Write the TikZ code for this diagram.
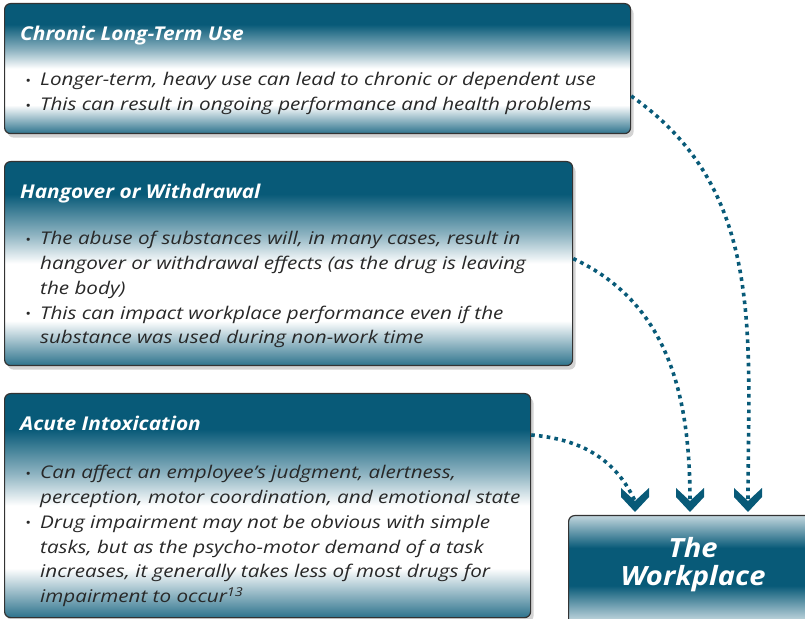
\documentclass[tikz,border=0pt]{standalone}
\usepackage{fontspec}
\newfontfamily\bodyfont{Open Sans}[FakeStretch=1.18]
\newfontfamily\headfont{Open Sans}[FakeStretch=1.1]
\usepackage{xcolor}
\usetikzlibrary{shadows}

\definecolor{deepteal}{RGB}{8,90,120}
\definecolor{bodygray}{RGB}{40,40,40}

% panel: dark top band, white middle, teal again at the foot
\pgfdeclareverticalshading{panelshade}{100bp}{color(0bp)=(deepteal!85); color(25bp)=(deepteal!85);
  color(36bp)=(white); color(50bp)=(white); color(57bp)=(deepteal!45); color(67bp)=(deepteal); color(100bp)=(deepteal)}
% target box: light edges, dark middle
\pgfdeclareverticalshading{targetshade}{100bp}{color(0bp)=(white); color(25bp)=(white);
  color(32bp)=(deepteal!20); color(47bp)=(deepteal); color(62bp)=(deepteal); color(75bp)=(deepteal!25); color(100bp)=(deepteal!25)}

\newcommand{\bul}{\makebox[15pt][l]{\raisebox{0.5pt}{\fontsize{13}{13}\selectfont\textbullet}}}
\newcommand{\ind}{\hspace*{15pt}}

\begin{document}
\begin{tikzpicture}[x=1pt,y=1pt,
  panel/.style={draw=black!80, line width=1.2pt, rounded corners=6pt, shading=panelshade,
    anchor=north west, inner sep=0pt,
    drop shadow={shadow xshift=3pt, shadow yshift=-4pt, opacity=0.35}},
  heading/.style={anchor=base west, inner sep=0pt, text=white,
    font=\headfont\bfseries\itshape\fontsize{19}{22}\selectfont},
  bullets/.style={anchor=base west, inner sep=0pt, text=bodygray,
    font=\bodyfont\itshape\fontsize{17.5}{24.7}\selectfont},
  link/.style={draw=deepteal, line width=3.6pt, dash pattern=on 3.6pt off 4.2pt},
  chevron/.pic={\fill[deepteal] (0,-11) -- (14,4) -- (14,13) -- (0,0) -- (-14,13) -- (-14,4) -- cycle;}]

  \useasboundingbox (0,0) rectangle (805,618);
  \clip (0,0) rectangle (805,618);

  % the three panels
  \node[panel, minimum width=626pt, minimum height=130pt] (chronic) at (4,615) {};
  \node[heading] (chronichead) at ([shift={(16,-38)}]chronic.north west) {Chronic Long-Term Use};
  \node[bullets] (chronictext) at ([shift={(21,-83)}]chronic.north west)
    {\begin{tabular}[t]{@{}l@{}}
     \bul Longer-term, heavy use can lead to chronic or dependent use\\
     \bul This can result in ongoing performance and health problems
     \end{tabular}};

  \node[panel, minimum width=568pt, minimum height=204pt] (hangover) at (4,457) {};
  \node[heading] (hangoverhead) at ([shift={(16,-38)}]hangover.north west) {Hangover or Withdrawal};
  \node[bullets] (hangovertext) at ([shift={(21,-84)}]hangover.north west)
    {\begin{tabular}[t]{@{}l@{}}
     \bul The abuse of substances will, in many cases, result in\\
     \ind hangover or withdrawal effects (as the drug is leaving\\
     \ind the body)\\
     \bul This can impact workplace performance even if the\\
     \ind substance was used during non-work time
     \end{tabular}};

  \node[panel, minimum width=526pt, minimum height=224pt] (acute) at (4,225) {};
  \node[heading] (acutehead) at ([shift={(16,-38)}]acute.north west) {Acute Intoxication};
  \node[bullets] (acutetext) at ([shift={(21,-86)}]acute.north west)
    {\begin{tabular}[t]{@{}l@{}}
     \bul Can affect an employee’s judgment, alertness,\\
     \ind perception, motor coordination, and emotional state\\
     \bul Drug impairment may not be obvious with simple\\
     \ind tasks, but as the psycho-motor demand of a task\\
     \ind increases, it generally takes less of most drugs for\\
     \ind impairment to occur\textsuperscript{13}
     \end{tabular}};

  % target
  \node[draw=black!80, line width=1.2pt, rounded corners=6pt, shading=targetshade,
    anchor=north west, inner sep=0pt, minimum width=260pt, minimum height=125pt] (workplace) at (568,103) {};
  \node[text=white, align=center, font=\headfont\bfseries\itshape\fontsize{26.5}{28}\selectfont] (wplabel) at (693,53) {The\\Workplace};

  % dotted links
  \coordinate (in1) at (635,117);
  \coordinate (in2) at (690,117);
  \coordinate (in3) at (748,117);
  \draw[link] (acute.15) to[out=-5,in=115] (in1);
  \draw[link] (hangover.1) to[out=-25,in=90] (in2);
  \draw[link] (chronic.-5) to[out=-35,in=90] (in3);
  \pic at (in1) {chevron};
  \pic at (in2) {chevron};
  \pic at (in3) {chevron};
\end{tikzpicture}
\end{document}
